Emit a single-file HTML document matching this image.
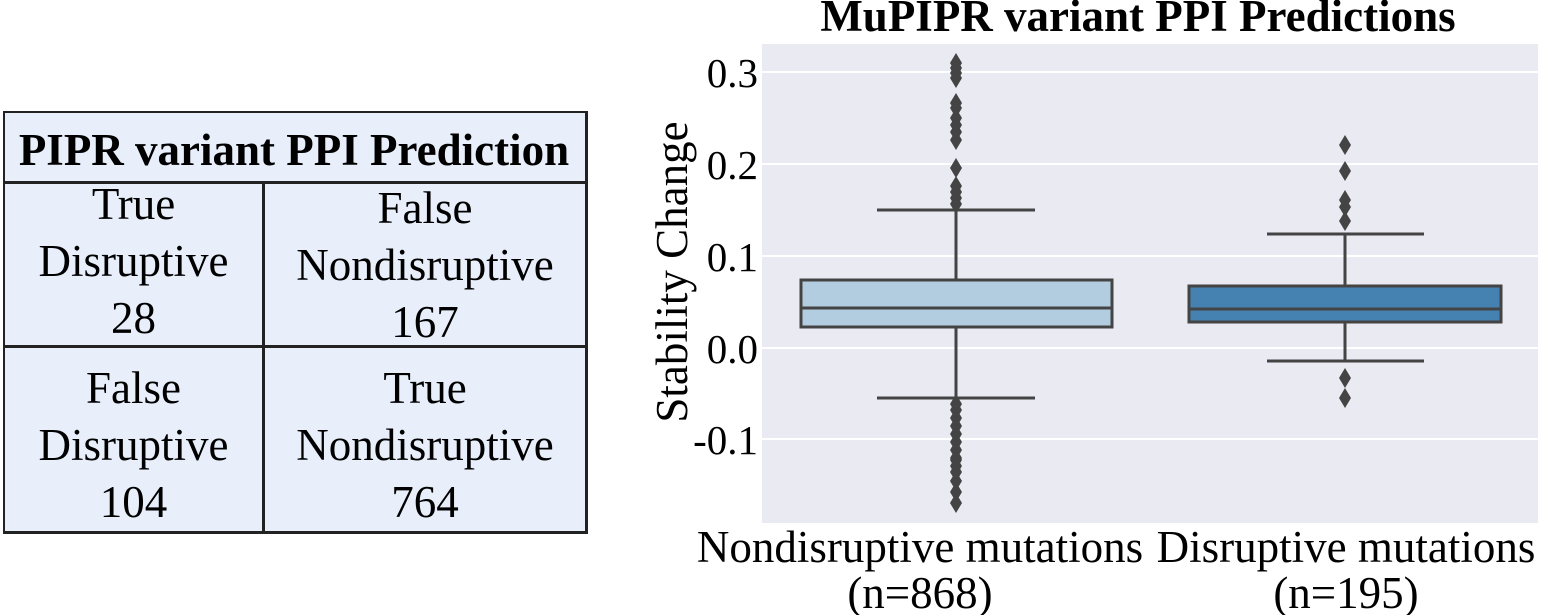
<!DOCTYPE html>
<html><head><style>
body{margin:0;background:#fff;width:1543px;height:615px;overflow:hidden;position:relative;font-family:"Liberation Serif","Times New Roman",serif}
.t{position:absolute;color:#000;text-align:center;line-height:57px;font-size:45px;white-space:nowrap}
</style></head><body>
<div style="position:absolute;left:3px;top:111px;width:580px;height:418px;background:#e8effb;border:2px solid #222;border-right-width:3px;border-bottom-width:3px"></div>
<div style="position:absolute;left:3px;top:181px;width:583px;height:3px;background:#222"></div>
<div style="position:absolute;left:3px;top:345px;width:583px;height:3px;background:#222"></div>
<div style="position:absolute;left:262px;top:181px;width:3px;height:350px;background:#222"></div>
<div class="t" style="left:5px;top:122px;width:578px;font-weight:bold;font-size:45px">PIPR variant PPI Prediction</div>
<div class="t" style="left:5px;top:176px;width:257px">True<br>Disruptive<br>28</div>
<div class="t" style="left:265px;top:180px;width:320px">False<br>Nondisruptive<br>167</div>
<div class="t" style="left:5px;top:360px;width:257px">False<br>Disruptive<br>104</div>
<div class="t" style="left:265px;top:360px;width:320px">True<br>Nondisruptive<br>764</div>
<svg width="1543" height="615" style="position:absolute;left:0;top:0">
<defs><path id="d" d="M0,-10 L6,0 L0,10 L-6,0Z" fill="#444"/></defs>
<rect x="762" y="44" width="776" height="479" fill="#eaeaf2"/>
<g stroke="#fff" stroke-width="2">
<line x1="762" x2="1538" y1="72" y2="72"/><line x1="762" x2="1538" y1="164" y2="164"/><line x1="762" x2="1538" y1="256" y2="256"/><line x1="762" x2="1538" y1="348" y2="348"/><line x1="762" x2="1538" y1="439" y2="439"/>
</g>
<g stroke="#444" stroke-width="3" fill="none">
<line x1="956" x2="956" y1="210" y2="280"/><line x1="956" x2="956" y1="327" y2="398"/>
<line x1="877" x2="1035" y1="210" y2="210"/><line x1="877" x2="1035" y1="398" y2="398"/>
<rect x="801" y="280" width="311" height="47" fill="#b3cde0"/>
<line x1="801" x2="1112" y1="308" y2="308"/>
<line x1="1345" x2="1345" y1="234" y2="286"/><line x1="1345" x2="1345" y1="322" y2="361"/>
<line x1="1267" x2="1424" y1="234" y2="234"/><line x1="1267" x2="1424" y1="361" y2="361"/>
<rect x="1189" y="286" width="312" height="36" fill="#4682b1"/>
<line x1="1189" x2="1501" y1="309" y2="309"/>
</g>
<g>
<use href="#d" x="956" y="63"/><use href="#d" x="956" y="68"/><use href="#d" x="956" y="73"/><use href="#d" x="956" y="78"/>
<use href="#d" x="956" y="103"/><use href="#d" x="956" y="108"/><use href="#d" x="956" y="118"/><use href="#d" x="956" y="125"/><use href="#d" x="956" y="132"/><use href="#d" x="956" y="140"/>
<use href="#d" x="956" y="168"/><use href="#d" x="956" y="186"/><use href="#d" x="956" y="192"/><use href="#d" x="956" y="198"/><use href="#d" x="956" y="204"/>
<use href="#d" x="956" y="404"/><use href="#d" x="956" y="410"/><use href="#d" x="956" y="418"/><use href="#d" x="956" y="426"/><use href="#d" x="956" y="434"/><use href="#d" x="956" y="442"/><use href="#d" x="956" y="450"/><use href="#d" x="956" y="458"/>
<use href="#d" x="956" y="460"/><use href="#d" x="956" y="466"/><use href="#d" x="956" y="472"/><use href="#d" x="956" y="481"/><use href="#d" x="956" y="492"/><use href="#d" x="956" y="503"/>
<use href="#d" x="1345" y="145"/><use href="#d" x="1345" y="171"/><use href="#d" x="1345" y="200"/><use href="#d" x="1345" y="207"/><use href="#d" x="1345" y="221"/>
<use href="#d" x="1345" y="378"/><use href="#d" x="1345" y="398"/>
</g>
<g font-family="Liberation Serif,Times New Roman,serif" font-size="41" text-anchor="end" fill="#000">
<text x="758" y="87">0.3</text><text x="758" y="179">0.2</text><text x="758" y="271">0.1</text><text x="758" y="363">0.0</text><text x="758" y="454">-0.1</text>
</g>
<text x="1138" y="31" font-family="Liberation Serif,Times New Roman,serif" font-size="45" font-weight="bold" text-anchor="middle">MuPIPR variant PPI Predictions</text>
<text transform="translate(687,272) rotate(-90)" font-family="Liberation Serif,Times New Roman,serif" font-size="45" text-anchor="middle">Stability Change</text>
<g font-family="Liberation Serif,Times New Roman,serif" font-size="45" text-anchor="middle">
<text x="920" y="562">Nondisruptive mutations</text><text x="920" y="608">(n=868)</text>
<text x="1346" y="562">Disruptive mutations</text><text x="1346" y="608">(n=195)</text>
</g>
</svg>
</body></html>
